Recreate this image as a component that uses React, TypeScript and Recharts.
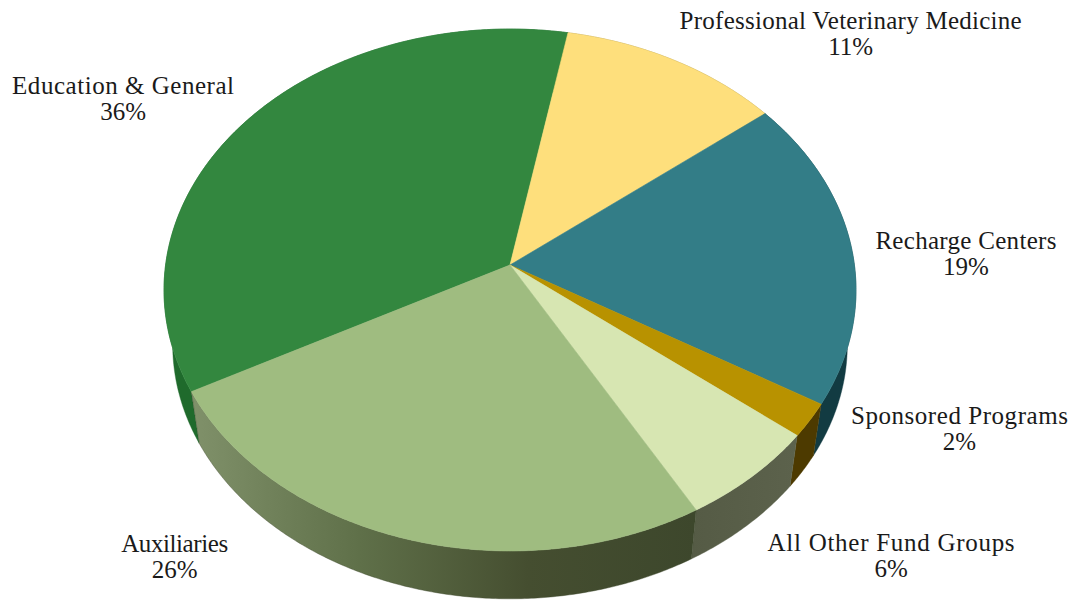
import React from "react";
import { PieChart, Pie } from "recharts";

const categories = ["Education & General", "Professional Veterinary Medicine", "Recharge Centers", "Sponsored Programs", "All Other Fund Groups", "Auxiliaries"];
const shares = [35.7, 11.4, 19.2, 2.1, 6.1, 25.5];
const shownPercents = ["36%", "11%", "19%", "2%", "6%", "26%"];
const topColors = ["#33873f", "#fedf7c", "#337d87", "#b89200", "#d7e6b2", "#9fbc80"];
const wallStops: string[][] = [
  ["#1f6a2c", "#1f6a2c"],
  ["#8a7a40", "#8a7a40"],
  ["#123b42", "#123b42"],
  ["#4d3a00", "#4d3a00"],
  ["#555b45", "#5c624c"],
  ["#80916a", "#5f7049", "#454e30", "#3d472c"],
];
const labelDx = [-124.5, 176, 114.4, 149.5, 139, -229.5];
const labelDy = [-20, -25.5, 7.4, 9.4, 81, 19.4];
const labelWidths = [222, 342, 181, 217, 247, 107];

const rows = categories.map((name, i) => ({ name, value: shares[i], idx: i }));

// view of the tilted disc
const SQUASH = 0.7508;
const TILT = 0.0958;
const DEPTH = 55;
const SHRINK = 0.975;

function project(cx: number, cy: number, r: number, deg: number, bottom = false) {
  const t = (deg * Math.PI) / 180;
  const u = Math.cos(t);
  const v = -Math.sin(t);
  const w = 1 - TILT * v;
  const X = (r * u) / w;
  const Y = (r * SQUASH * v) / w;
  if (bottom) return [cx + X * SHRINK, cy + Y * SHRINK + DEPTH];
  return [cx + X, cy + Y];
}

function rim(cx: number, cy: number, r: number, a: number, b: number, bottom = false) {
  const n = Math.max(2, Math.ceil(Math.abs(b - a) / 0.5));
  const pts: number[][] = [];
  for (let i = 0; i <= n; i++) pts.push(project(cx, cy, r, a + ((b - a) * i) / n, bottom));
  return pts;
}

const toPath = (pts: number[][]) => pts.map((p, i) => `${i ? "L" : "M"}${p[0].toFixed(2)} ${p[1].toFixed(2)}`).join(" ");

function TopFace(props: any) {
  const { cx, cy, outerRadius, startAngle, endAngle, payload } = props;
  const color = topColors[payload.idx];
  const d = `M${cx} ${cy} ${toPath(rim(cx, cy, outerRadius, startAngle, endAngle)).replace("M", "L")} Z`;
  return <path d={d} fill={color} stroke={color} strokeWidth={0.6} />;
}

function Wall(props: any) {
  const { cx, cy, outerRadius, startAngle, endAngle, payload } = props;
  const stops = wallStops[payload.idx];
  const id = `wall-${payload.idx}`;
  const upper = rim(cx, cy, outerRadius, startAngle, endAngle);
  const lower = rim(cx, cy, outerRadius, endAngle, startAngle, true);
  const d = `${toPath(upper)} ${toPath(lower).replace("M", "L")} Z`;
  return (
    <g>
      <defs>
        <linearGradient id={id} x1="0" y1="0" x2="1" y2="0">
          {stops.map((c, i) => (
            <stop key={i} offset={i / (stops.length - 1)} stopColor={c} />
          ))}
        </linearGradient>
      </defs>
      <path d={d} fill={`url(#${id})`} stroke={stops[stops.length - 1]} strokeWidth={0.4} />
    </g>
  );
}

function SliceLabel(props: any) {
  const { cx, cy, outerRadius, midAngle, payload, index } = props;
  const idx = payload?.idx ?? index;
  const p = project(cx, cy, outerRadius, midAngle);
  const x = p[0] + labelDx[idx];
  const y = p[1] + labelDy[idx];
  return (
    <text x={x} y={y} textAnchor="middle" fontFamily="'Liberation Serif', serif" fontSize={25} fill="#1a1a1a">
      <tspan x={x} dy={-6} textLength={labelWidths[idx]} lengthAdjust="spacing">{categories[idx]}</tspan>
      <tspan x={x} dy={26}>{shownPercents[idx]}</tspan>
    </text>
  );
}

const START = -152.1;

export default function App() {
  return (
    <div style={{ position: "absolute", left: 0, top: 0, width: 1073, height: 601, background: "#fff" }}>
      <PieChart width={1073} height={601} margin={{ top: 0, right: 0, bottom: 0, left: 0 }} accessibilityLayer={false}>
        <Pie
          data={rows}
          dataKey="value"
          nameKey="name"
          cx={510}
          cy={265}
          outerRadius={344.4}
          startAngle={START}
          endAngle={START - 360}
          shape={Wall}
          label={false}
          labelLine={false}
          isAnimationActive={false}
          stroke="none"
        />
        <Pie
          data={rows}
          dataKey="value"
          nameKey="name"
          cx={510}
          cy={265}
          outerRadius={344.4}
          startAngle={START}
          endAngle={START - 360}
          shape={TopFace}
          label={SliceLabel}
          labelLine={false}
          isAnimationActive={false}
          stroke="none"
        />
      </PieChart>
    </div>
  );
}
